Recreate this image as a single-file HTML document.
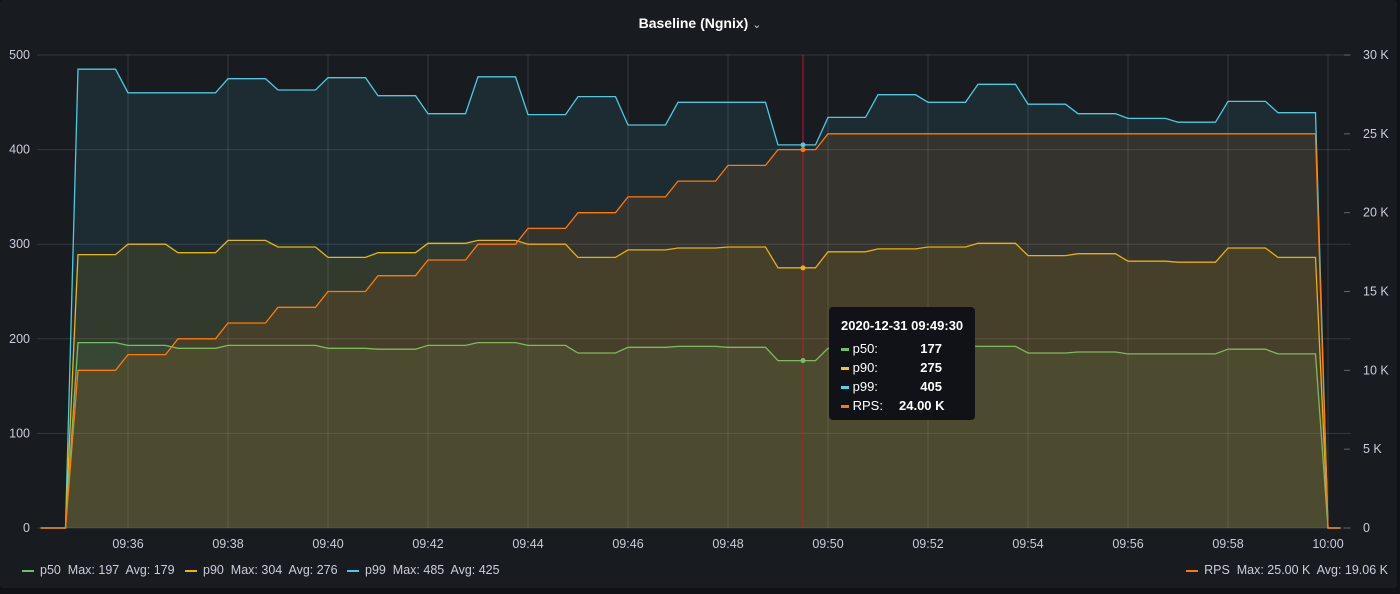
<!DOCTYPE html>
<html><head><meta charset="utf-8"><style>
html,body{margin:0;padding:0;background:#111217;}
body{width:1400px;height:594px;overflow:hidden;font-family:"Liberation Sans",sans-serif;}
#panel{position:absolute;left:0;top:0;width:1397px;height:588px;background:#181b1f;border-radius:3px;}
.lg{position:absolute;top:563px;color:#ccccdc;font-size:12.5px;white-space:nowrap}
.dash{display:inline-block;width:12px;height:2px;vertical-align:middle;margin-right:6px}
</style></head><body>
<div id="panel">
<svg id="chart" width="1400" height="594" style="position:absolute;left:0;top:0"></svg>
</div>
<script>
const minutes = ["09:35","09:36","09:37","09:38","09:39","09:40","09:41","09:42","09:43","09:44","09:45","09:46","09:47","09:48","09:49","09:50","09:51","09:52","09:53","09:54","09:55","09:56","09:57","09:58","09:59"];
const p50 = [196,193,190,193,193,190,189,193,196,193,185,191,192,191,177,190,192,193,192,185,186,184,184,189,184];
const p90 = [289,300,291,304,297,286,291,301,304,300,286,294,296,297,275,292,295,297,301,288,290,282,281,296,286];
const p99 = [485,460,460,475,463,476,457,438,477,437,456,426,450,450,405,434,458,450,469,448,438,433,429,451,439];
const rps = [10,11,12,13,14,15,16,17,18,19,20,21,22,23,24,25,25,25,25,25,25,25,25,25,25];
const leftTicks = [0,100,200,300,400,500];
const rightTicks = [0,5,10,15,20,25,30];
const xTickLabels = ["09:36","09:38","09:40","09:42","09:44","09:46","09:48","09:50","09:52","09:54","09:56","09:58","10:00"];

const NS="http://www.w3.org/2000/svg";
const svg=document.getElementById('chart');
const X0=37,X1=1340,Y0=528,Y1=55;
const xs=m=>128+(m-2)*50;
const yL=v=>Y0-(v/500)*(Y0-Y1);
const yR=v=>Y0-(v/30)*(Y0-Y1);
function el(tag,attrs,parent){const e=document.createElementNS(NS,tag);for(const k in attrs)e.setAttribute(k,attrs[k]);(parent||svg).appendChild(e);return e;}

const grid=el('g',{});


leftTicks.forEach(v=>{el('line',{x1:X0,x2:1351,y1:yL(v),y2:yL(v),stroke:'#ffffff',"stroke-opacity":0.13,"stroke-width":1},grid);});
xTickLabels.forEach(l=>{const p=l.split(':');const m=(+p[0]*60+ +p[1])-(9*60+34);el('line',{x1:xs(m),x2:xs(m),y1:Y1,y2:Y0,stroke:'#ffffff',"stroke-opacity":0.13},grid);});

leftTicks.forEach(v=>{const t=el('text',{x:30,y:yL(v)+4,"text-anchor":"end",fill:'#ccccdc',"font-size":12.5});t.textContent=v;

});
rightTicks.forEach(v=>{el('line',{x1:1344,x2:1350,y1:yR(v),y2:yR(v),stroke:'#666'});const t=el('text',{x:1363,y:yR(v)+4,fill:'#ccccdc',"font-size":12.5});t.textContent=v===0?'0':v+' K';

});
xTickLabels.forEach(l=>{const p=l.split(':');const m=(+p[0]*60+ +p[1])-(9*60+34);const t=el('text',{x:xs(m),y:548,"text-anchor":"middle",fill:'#ccccdc',"font-size":12.5});t.textContent=l;

});

function pts(vals,yf){const a=[[0.25,0],[0.75,0]];vals.forEach((v,i)=>{a.push([1+i,v]);a.push([1.75+i,v]);});a.push([26,0]);a.push([26.25,0]);return a.map(p=>[xs(p[0]),yf(p[1])]);}
function series(name,vals,yf,color){
  const g=el('g',{});
  
  
  const p=pts(vals,yf);
  const d='M'+p.map(q=>q[0].toFixed(1)+','+q[1].toFixed(1)).join('L');
  el('path',{d:d+'L'+p[p.length-1][0]+','+Y0+'L'+p[0][0]+','+Y0+'Z',fill:color,"fill-opacity":0.1,stroke:'none'},g);
  el('path',{d:d,fill:'none',stroke:color,"stroke-width":1.3},g);
}
series('p99',p99,yL,'#4fc9de');
series('p90',p90,yL,'#e8b60f');
series('p50',p50,yL,'#73bf69');
series('rps',rps,yR,'#ff780a');

const hx=xs(15.5);
el('line',{x1:hx,x2:hx,y1:Y1,y2:Y0,stroke:'#c4162a',"stroke-width":1});
[[yL(p99[14]),'#4fc9de'],[yR(rps[14]),'#ff780a'],[yL(p90[14]),'#e8b60f'],[yL(p50[14]),'#73bf69']].forEach(a=>el('circle',{cx:hx,cy:a[0],r:2.5,fill:a[1]}));
</script>
<div style="position:absolute;left:0;width:1400px;top:15px;text-align:center;color:#fff;font-size:14px;font-weight:bold;">Baseline (Ngnix) <span style="font-weight:normal;font-size:11px;color:#ccc">&#8964;</span></div>
<div style="position:absolute;left:829px;top:307px;width:146px;height:113px;background:#111217;border-radius:4px;color:#fff;font-size:13px;box-sizing:border-box;padding:11px 0 0 12px;">
<div style="font-weight:bold;margin-bottom:6px">2020-12-31 09:49:30</div>
<div style="line-height:19px">
<div><span style="display:inline-block;width:8px;height:3px;background:#73bf69;vertical-align:middle"></span> p50:<span style="position:absolute;left:85px;width:28px;text-align:right;font-weight:bold">177</span></div>
<div><span style="display:inline-block;width:8px;height:3px;background:#f2cc0c;vertical-align:middle"></span> p90:<span style="position:absolute;left:85px;width:28px;text-align:right;font-weight:bold">275</span></div>
<div><span style="display:inline-block;width:8px;height:3px;background:#4fd3ee;vertical-align:middle"></span> p99:<span style="position:absolute;left:85px;width:28px;text-align:right;font-weight:bold">405</span></div>
<div><span style="display:inline-block;width:8px;height:3px;background:#ff780a;vertical-align:middle"></span> RPS:<span style="position:absolute;left:70px;width:43px;text-align:right;font-weight:bold;white-space:nowrap">24.00 K</span></div>
</div></div>
<div class="lg" style="left:22px"><span class="dash" style="background:#73bf69"></span>p50&nbsp; Max: 197&nbsp; Avg: 179</div>
<div class="lg" style="left:185px"><span class="dash" style="background:#e8b60f"></span>p90&nbsp; Max: 304&nbsp; Avg: 276</div>
<div class="lg" style="left:347px"><span class="dash" style="background:#4fc9de"></span>p99&nbsp; Max: 485&nbsp; Avg: 425</div>
<div class="lg" style="right:12px"><span class="dash" style="background:#ff780a"></span>RPS&nbsp; Max: 25.00 K&nbsp; Avg: 19.06 K</div>
</body></html>
